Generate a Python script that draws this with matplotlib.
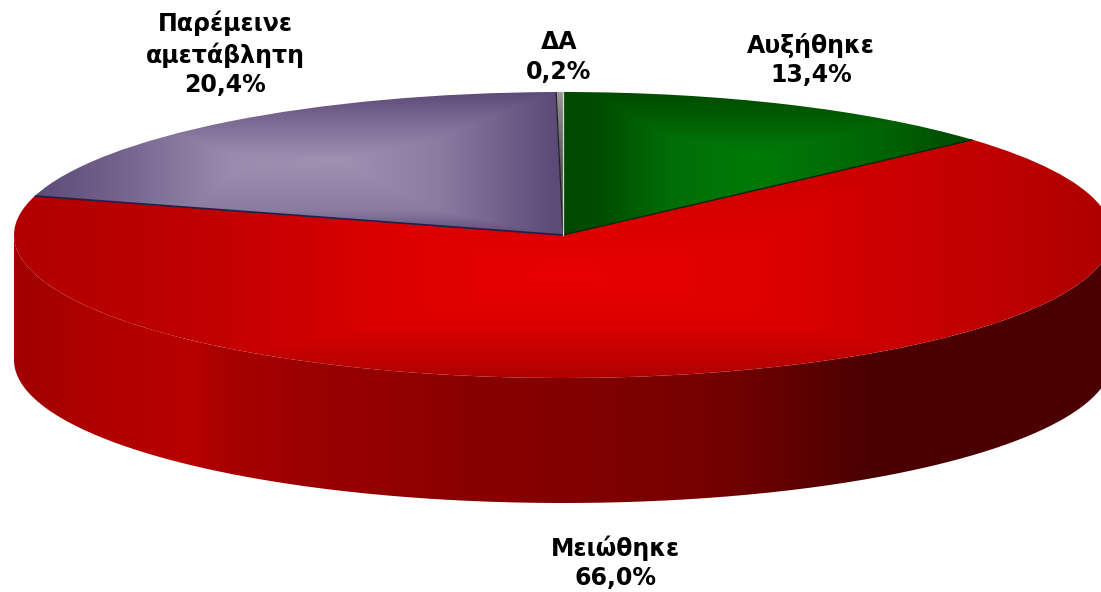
import numpy as np
import matplotlib
matplotlib.use("Agg")
import matplotlib.pyplot as plt
from matplotlib.path import Path
from matplotlib.patches import PathPatch
from matplotlib.transforms import Affine2D

labels = ["Αυξήθηκε\n13,4%", "Μειώθηκε\n66,0%", "Παρέμεινε\nαμετάβλητη\n20,4%", "ΔΑ\n0,2%"]
values = [13.4, 66.0, 20.4, 0.2]
label_pos = [(811, 60), (615, 563), (225, 54), (559, 57)]

W, H = 1101, 592
cx, cy = 563, 592 - 235
rx, ry = 549, 143
depth = 125

xx, yy = np.meshgrid(np.arange(W) + 0.5, np.arange(H) + 0.5)
py = H - yy  # rows as measured from the top


def rgb(shade, dark, light):
    dark = np.array(dark) / 255
    light = np.array(light) / 255
    return dark + (light - dark) * np.clip(shade, 0, 1)[..., None]


def red_top():
    sx = np.interp(xx, [14, 180, 400, 560, 760, 950, 1101], [0.12, 0.3, 0.82, 1, 0.85, 0.42, 0.08])
    sy = np.interp(py, [92, 180, 275, 325, 378], [0.2, 0.6, 1, 0.78, 0.08])
    return rgb(np.minimum(sx, sy), (170, 0, 0), (232, 0, 0))


def green_top():
    sx = np.interp(xx, [563, 600, 670, 755, 860, 975], [0, 0.05, 0.75, 1, 0.65, 0])
    sy = np.interp(py, [92, 115, 152, 235], [0, 0.35, 1, 0.85])
    return rgb(np.minimum(sx, sy), (0, 74, 0), (0, 122, 8))


def purple_top():
    sx = np.interp(xx, [30, 120, 230, 340, 440, 555], [0, 0.35, 0.92, 1, 0.7, 0])
    sy = np.interp(py, [92, 120, 160, 210, 235], [0, 0.45, 1, 0.7, 0])
    return rgb(np.minimum(sx, sy), (92, 74, 120), (160, 144, 178))


def grey_top():
    s = np.interp(py, [92, 110, 170], [0.75, 0.6, 0.25])
    return rgb(s, (50, 50, 50), (190, 190, 190))


def wall():
    x_stops = [14, 100, 195, 218, 300, 500, 700, 800, 870, 1101]
    r_stops = [160, 176, 184, 170, 156, 135, 120, 95, 74, 74]
    return rgb(np.interp(xx, x_stops, r_stops) / 255, (0, 0, 0), (255, 0, 0))


fig = plt.figure(figsize=(W / 100, H / 100), dpi=100, facecolor="white")
ax = fig.add_axes([0, 0, 1, 1])

# front wall of the disc
theta = np.linspace(np.pi, 2 * np.pi, 400)
top_x = cx + rx * np.cos(theta)
top_y = cy + ry * np.sin(theta)
wall_pts = np.vstack([
    np.column_stack([top_x, top_y]),
    np.column_stack([top_x[::-1], top_y[::-1] - depth]),
    [[top_x[0], top_y[0]]],
])
wall_patch = PathPatch(Path(wall_pts), fc="none", ec="none")
ax.add_patch(wall_patch)
im = ax.imshow(wall(), extent=(0, W, 0, H), origin="lower", aspect="auto", zorder=1)
im.set_clip_path(wall_patch)

# top face comes from the pie wedges, squashed into an ellipse
wedges, _ = ax.pie(values, startangle=90, counterclock=False, radius=rx, center=(cx, cy),
                   wedgeprops=dict(fc="none", ec="none"), frame=True)
squash = Affine2D().translate(-cx, -cy).scale(1, ry / rx).translate(cx, cy) + ax.transData
fills = [green_top, red_top, purple_top, grey_top]
for w, fill in zip(wedges, fills):
    w.set_transform(squash)
    w.set_zorder(3)
    im = ax.imshow(fill(), extent=(0, W, 0, H), origin="lower", aspect="auto", zorder=2)
    im.set_clip_path(w)

# thin dark lines along the slice borders
bounds = np.cumsum([0] + values) / sum(values) * 2 * np.pi
for b, col, lw in zip(bounds[1:], ["#002800", "#20204a", "#222222"], [1.0, 1.2, 0.9]):
    ax.plot([cx, cx + rx * np.sin(b)], [cy, cy + ry * np.cos(b)], color=col, lw=lw, zorder=4,
            solid_capstyle="butt")
ax.plot([cx, cx], [cy, cy + ry], color="#d8d8d8", lw=0.9, zorder=5)

for text, (x, y) in zip(labels, label_pos):
    ax.text(x, H - y, text, ha="center", va="center", fontsize=17, fontweight="bold",
            family="DejaVu Sans", color="black", linespacing=1.28, zorder=6)

ax.set_xlim(0, W)
ax.set_ylim(0, H)
ax.set_aspect("auto")
ax.axis("off")
fig.savefig("out.png", dpi=100, facecolor="white")
